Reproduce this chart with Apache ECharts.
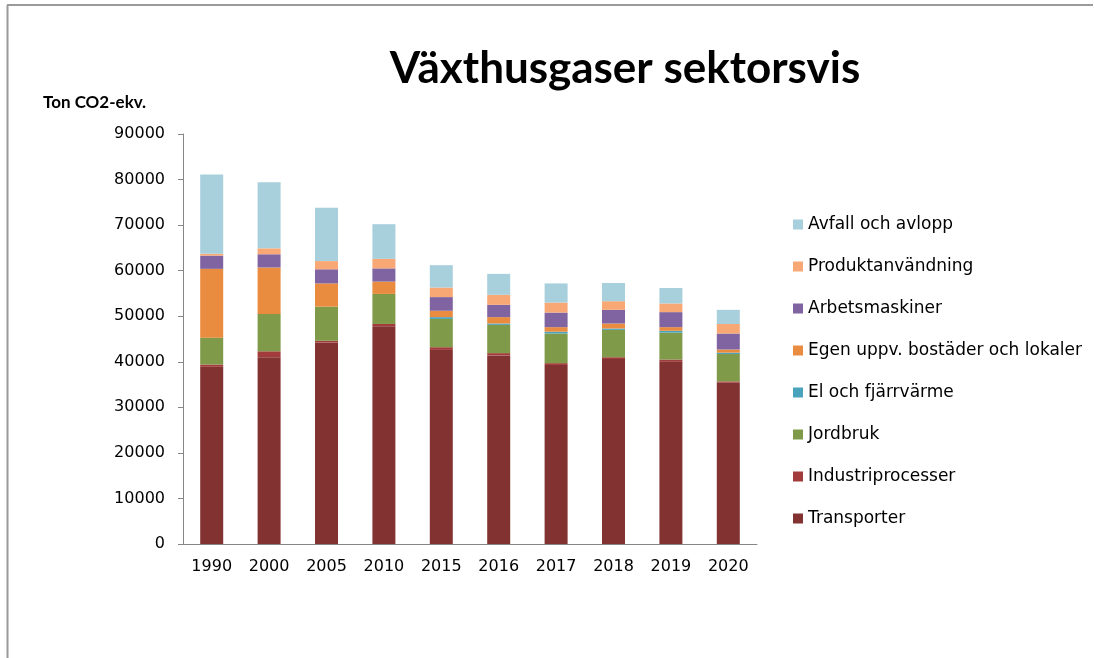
<!DOCTYPE html>
<html>
<head>
<meta charset="utf-8">
<script src="https://cdn.jsdelivr.net/npm/echarts@6/dist/echarts.min.js"></script>
<style>
  html, body { margin: 0; padding: 0; background: #fff; }
  #chart { width: 1094px; height: 658px; }
</style>
</head>
<body>
<div id="chart"></div>
<script>
// år
var years = ['1990', '2000', '2005', '2010', '2015', '2016', '2017', '2018', '2019', '2020'];
// ton CO2-ekv. per sektor
var transporter = [38900, 41000, 44200, 47800, 42600, 41400, 39300, 40600, 40100, 35400];
var industriprocesser = [500, 1300, 400, 500, 600, 500, 400, 400, 400, 300];
var jordbruk = [5900, 8200, 7500, 6600, 6200, 6200, 6500, 6000, 5900, 6000];
var elFjarrvarme = [0, 0, 0, 0, 400, 300, 400, 300, 400, 300];
var egenUppv = [15100, 10200, 5100, 2700, 1400, 1400, 1000, 1100, 800, 700];
var arbetsmaskiner = [2900, 2900, 3100, 2900, 3000, 2700, 3200, 3000, 3300, 3500];
var produktanvandning = [400, 1300, 1800, 2100, 2100, 2200, 2200, 1900, 1900, 2100];
var avfall = [17400, 14500, 11700, 7600, 4900, 4600, 4200, 4000, 3400, 3100];

var sectors = [
  { name: 'Transporter', data: transporter, color: '#833232' },
  { name: 'Industriprocesser', data: industriprocesser, color: '#a23c3c' },
  { name: 'Jordbruk', data: jordbruk, color: '#7f9a48' },
  { name: 'El och fjärrvärme', data: elFjarrvarme, color: '#4aa3bd' },
  { name: 'Egen uppv. bostäder och lokaler', data: egenUppv, color: '#ea8c3f' },
  { name: 'Arbetsmaskiner', data: arbetsmaskiner, color: '#8064a2' },
  { name: 'Produktanvändning', data: produktanvandning, color: '#f7a874' },
  { name: 'Avfall och avlopp', data: avfall, color: '#a8cfdc' }
];

var chart = echarts.init(document.getElementById('chart'));
var font = 'DejaVu Sans';

var option = {
  backgroundColor: '#fff',
  animation: false,
  title: [
    {
      text: 'Växthusgaser sektorsvis',
      left: 620, top: 42, textAlign: 'center',
      textStyle: { fontFamily: 'Lato', fontWeight: 'bold', fontSize: 44, color: '#000' }
    },
    {
      text: 'Ton CO2-ekv.',
      left: 38, top: 89,
      textStyle: { fontFamily: 'Lato', fontWeight: 'bold', fontSize: 17, color: '#000' }
    }
  ],
  legend: {
    orient: 'vertical',
    left: 788, top: 211,
    itemWidth: 10, itemHeight: 10,
    itemGap: 25,
    icon: 'rect',
    data: sectors.map(function (s) { return s.name; }).reverse(),
    textStyle: { fontFamily: font, fontSize: 17, color: '#000', lineHeight: 16 }
  },
  grid: { left: 183, right: 337, top: 134, bottom: 114, containLabel: false },
  xAxis: {
    type: 'category',
    data: years,
    axisLine: { lineStyle: { color: '#868686' } },
    axisTick: { lineStyle: { color: '#868686' }, length: 5 },
    axisLabel: { fontFamily: font, fontSize: 16, color: '#000', margin: 15 }
  },
  yAxis: {
    type: 'value',
    min: 0, max: 90000, interval: 10000,
    splitLine: { show: false },
    axisLine: { show: true, lineStyle: { color: '#868686' } },
    axisTick: { show: true, lineStyle: { color: '#868686' }, length: 5 },
    axisLabel: {
      fontFamily: font, fontSize: 16, color: '#000', margin: 18,
      formatter: function (v) { return String(v); }
    }
  },
  series: sectors.map(function (s) {
    return {
      name: s.name,
      type: 'bar',
      stack: 'total',
      barWidth: 23,
      data: s.data,
      itemStyle: { color: s.color }
    };
  }),
  graphic: [
    { type: 'line', shape: { x1: 7, y1: 5, x2: 1093, y2: 5 }, style: { stroke: '#9a9a9a', lineWidth: 2 } },
    { type: 'line', shape: { x1: 7.5, y1: 5, x2: 7.5, y2: 658 }, style: { stroke: '#9a9a9a', lineWidth: 2 } }
  ]
};

chart.setOption(option);
</script>
</body>
</html>
